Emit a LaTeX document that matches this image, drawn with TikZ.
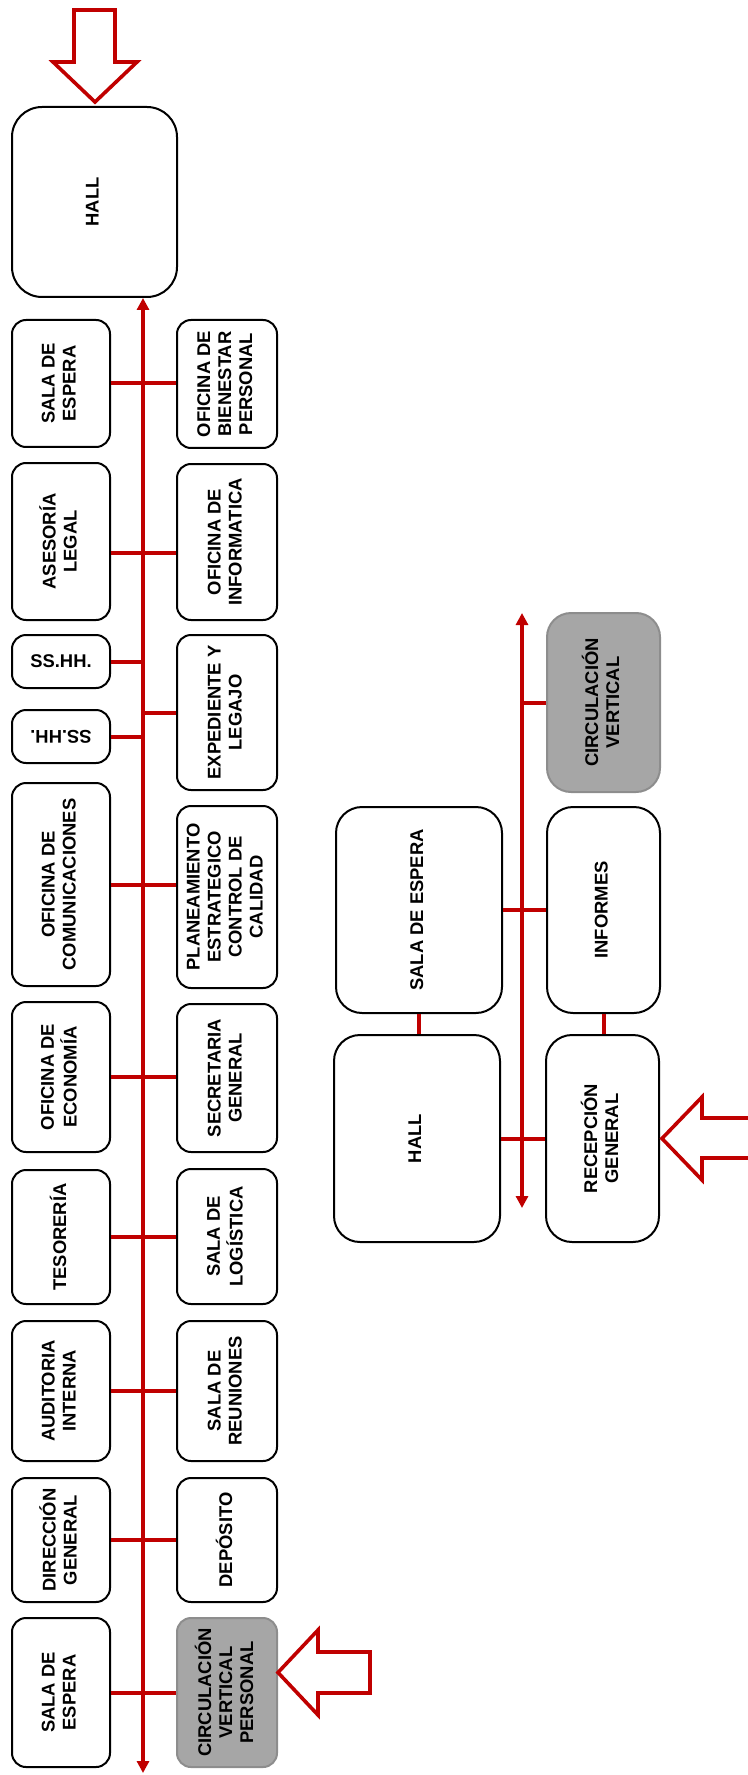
\documentclass[tikz,border=0pt]{standalone}
\usepackage{fontspec}
\setmainfont{Liberation Sans}
\usepackage{tikz}
\usetikzlibrary{arrows.meta,calc}

\definecolor{wallred}{HTML}{C00000}
\definecolor{stairgray}{HTML}{A6A6A6}

% rotated multi-line label for the rooms
\newcommand{\vtext}[1]{\rotatebox{90}{\begin{tabular}{@{}c@{}}#1\end{tabular}}}

\begin{document}
\begin{tikzpicture}[x=0.5pt,y=-0.5pt,
    room/.style={draw=black, line width=1pt, rounded corners=7pt, fill=white, inner sep=0pt,
        font=\fontsize{9.2}{10.5}\selectfont\bfseries},
    stair/.style={room, draw=stairgray!85!black, fill=stairgray},
    link/.style={draw=wallred, line width=2pt},
    spine/.style={link, line width=2.3pt, {Triangle[length=6pt,width=6pt]}-{Triangle[length=6pt,width=6pt]}},
    entry/.style={draw=wallred, line width=1.8pt, fill=white, line join=miter}]
\useasboundingbox (0,0) rectangle (748,1775);

% administrative wing
\node[room, rounded corners=15pt, minimum width=82.5pt, minimum height=95pt] (hallA) at (94.5,202) {\vtext{HALL}};

\node[room, minimum width=49pt, minimum height=63.5pt] (salaA) at (61,383.5) {\vtext{SALA DE\\ESPERA}};
\node[room, minimum width=49pt, minimum height=78.5pt] (asesoria) at (61,541.5) {\vtext{ASESORÍA\\LEGAL}};
\node[room, minimum width=49pt, minimum height=26.5pt] (sshhA) at (61,661.5) {SS.HH.};
\node[room, minimum width=49pt, minimum height=26.5pt] (sshhB) at (61,736.5) {\rotatebox{180}{SS.HH.}};
\node[room, minimum width=49pt, minimum height=101.5pt] (comunic) at (61,884.5) {\vtext{OFICINA DE\\COMUNICACIONES}};
\node[room, minimum width=49pt, minimum height=75pt] (economia) at (61,1077) {\vtext{OFICINA DE\\ECONOMÍA}};
\node[room, minimum width=49pt, minimum height=67pt] (tesoreria) at (61,1237) {\vtext{TESORERÍA}};
\node[room, minimum width=49pt, minimum height=70pt] (auditoria) at (61,1391) {\vtext{AUDITORIA\\INTERNA}};
\node[room, minimum width=49pt, minimum height=62pt] (direccion) at (61,1540) {\vtext{DIRECCIÓN\\GENERAL}};
\node[room, minimum width=49pt, minimum height=74.5pt] (salaB) at (61,1692.5) {\vtext{SALA DE\\ESPERA}};

\node[room, minimum width=50pt, minimum height=64pt] (bienestar) at (227,384) {\vtext{OFICINA DE\\BIENESTAR\\PERSONAL}};
\node[room, minimum width=50pt, minimum height=78pt] (informatica) at (227,542) {\vtext{OFICINA DE\\INFORMATICA}};
\node[room, minimum width=50pt, minimum height=77.5pt] (expediente) at (227,712.5) {\vtext{EXPEDIENTE Y\\LEGAJO}};
\node[room, minimum width=50pt, minimum height=91pt] (planeam) at (227,897) {\vtext{PLANEAMIENTO\\ESTRATEGICO\\CONTROL DE\\CALIDAD}};
\node[room, minimum width=50pt, minimum height=74pt] (secretaria) at (227,1078) {\vtext{SECRETARIA\\GENERAL}};
\node[room, minimum width=50pt, minimum height=67.5pt] (logistica) at (227,1236.5) {\vtext{SALA DE\\LOGÍSTICA}};
\node[room, minimum width=50pt, minimum height=70pt] (reuniones) at (227,1391) {\vtext{SALA DE\\REUNIONES}};
\node[room, minimum width=50pt, minimum height=62pt] (deposito) at (227,1540) {\vtext{DEPÓSITO}};
\node[stair, minimum width=50pt, minimum height=74.5pt] (circP) at (227,1692.5) {\vtext{CIRCULACIÓN\\VERTICAL\\PERSONAL}};

% main corridor
\coordinate (spineEnd) at (143,1773);
\draw[spine] (spineEnd) -- (spineEnd |- hallA.south);

\draw[link] (salaA.east) -- (salaA.east -| bienestar.west);
\draw[link] ([yshift=-5.5pt]asesoria.east) -- ([yshift=-5.5pt]asesoria.east -| informatica.west);
\draw[link] (sshhA.east) -- (sshhA.east -| spineEnd);
\draw[link] (sshhB.east) -- (sshhB.east -| spineEnd);
\draw[link] (expediente.west) -- (expediente.west -| spineEnd);
\draw[link] (comunic.east) -- (comunic.east -| planeam.west);
\draw[link] (economia.east) -- (economia.east -| secretaria.west);
\draw[link] (tesoreria.east) -- (tesoreria.east -| logistica.west);
\draw[link] (auditoria.east) -- (auditoria.east -| reuniones.west);
\draw[link] (direccion.east) -- (direccion.east -| deposito.west);
\draw[link] (salaB.east) -- (salaB.east -| circP.west);

% entrances
\draw[entry] (74,10) -- (115,10) -- (115,62) -- (137,62) -- (95,102) -- (53,62) -- (74,62) -- cycle;
\draw[entry] (370,1652) -- (318,1652) -- (318,1630) -- (278,1672.5) -- (318,1715) -- (318,1693) -- (370,1693) -- cycle;

% public wing
\node[stair, rounded corners=12pt, minimum width=56.5pt, minimum height=89.5pt] (circV) at (603.5,702.5) {\vtext{CIRCULACIÓN\\VERTICAL}};
\node[room, rounded corners=13pt, minimum width=83pt, minimum height=103pt] (salaC) at (419,910) {\vtext{SALA DE ESPERA}};
\node[room, rounded corners=13pt, minimum width=56.5pt, minimum height=103pt] (informes) at (603.5,910) {\vtext{INFORMES}};
\node[room, rounded corners=13pt, minimum width=83pt, minimum height=103.5pt] (hallB) at (417,1138.5) {\vtext{HALL}};
\node[room, rounded corners=13pt, minimum width=56.5pt, minimum height=103.5pt] (recepcion) at (602.5,1138.5) {\vtext{RECEPCIÓN\\GENERAL}};

\coordinate (spine2Top) at (522,613);
\coordinate (spine2Bot) at (522,1208);
\draw[spine] (spine2Bot) -- (spine2Top);

\draw[link] (circV.west) -- (circV.west -| spine2Top);
\draw[link] (salaC.east) -- (informes.west);
\draw[link] (hallB.east) -- (recepcion.west);
\draw[link] (salaC.south) -- (salaC.south |- hallB.north);
\draw[link] (informes.south) -- (informes.south |- recepcion.north);

\draw[entry] (752,1118) -- (702,1118) -- (702,1097) -- (662,1138.5) -- (702,1180) -- (702,1158) -- (752,1158);
\end{tikzpicture}
\end{document}
